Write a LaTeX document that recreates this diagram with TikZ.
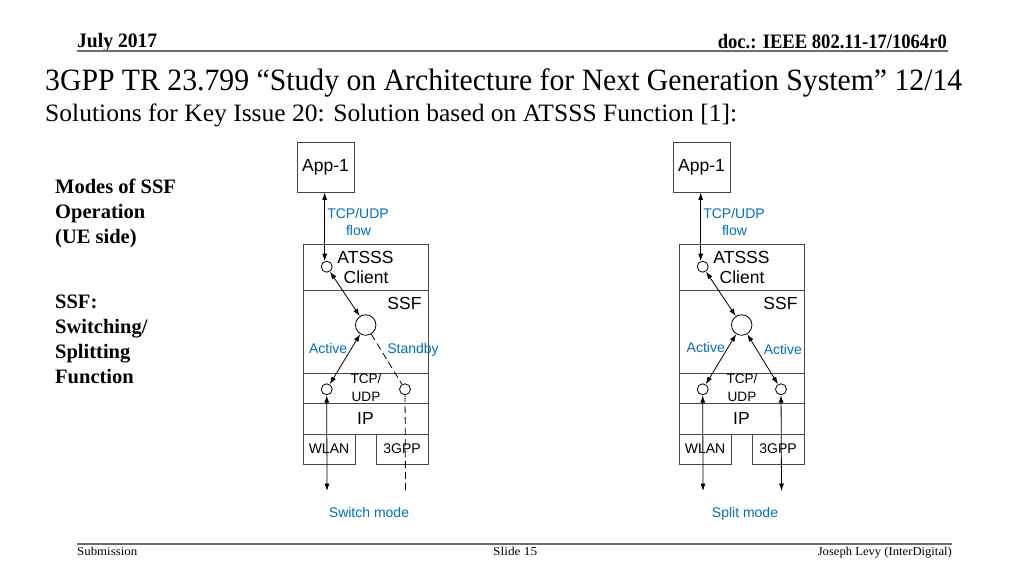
\documentclass[tikz,border=0pt]{standalone}
\usepackage{fontspec}
\setmainfont{Liberation Serif}
\newfontfamily\arialf{Liberation Sans}
\usepackage{graphicx}
\usetikzlibrary{arrows.meta}
\definecolor{lblue}{RGB}{0,112,192}
\definecolor{boxgray}{RGB}{70,70,70}
\definecolor{rulegray}{RGB}{110,110,110}
\newcommand\fs[1]{\fontsize{#1}{#1}\selectfont}
\newcommand\fitto[2]{\resizebox{#1}{\height}{#2}}

\newcommand\drawstack{%
  \node[appbox] (app) at (325.5,167) {App-1};
  \node[layer,minimum height=46pt] (lat) at (365.5,267) {};
  \node[layer,minimum height=83pt] (lssf) at (365.5,331.5) {};
  \node[layer,minimum height=30pt] (ltcp) at (365.5,388) {};
  \node[layer,minimum height=31pt,font=\arialf\fs{17.5}] (lip) at (365.5,418.5) {IP};
  \node[phy] (wlan) at (329,449) {WLAN};
  \node[phy] (g3) at (402,449) {3GPP};
  \node[lab] (tA) at (365.5,257) {ATSSS};
  \node[lab] (tC) at (366,277.5) {Client};
  \node[lab] (tS) at (404.5,303) {SSF};
  \node[lab13] (tT) at (366,379) {TCP/};
  \node[lab13] (tU) at (366,396.5) {UDP};
  \node[blab] (fl1) at (358,213) {TCP/UDP};
  \node[blab] (fl2) at (358.5,230) {flow};
  \node[sc] (c0) at (326.7,266.7) {};
  \node[bc] (cb) at (365.7,325) {};
  \node[sc] (cl) at (326.7,389.3) {};
  \node[sc] (cr) at (405,389.3) {};
  \coordinate (bl) at (327,491);
  \coordinate (br) at (405.5,491);
  \coordinate (brd) at (405.5,494);
  \draw[dbl] (c0.110 |- app.south) -- (c0.110);
  \draw[dbl] (c0) -- (cb);
  \draw[dbl] (cb) -- (cl);
}

\begin{document}
\begin{tikzpicture}[x=1pt,y=-1pt,
  appbox/.style={draw=boxgray,line width=0.8pt,minimum width=57pt,minimum height=50pt,inner sep=0pt,font=\arialf\fs{17.5}},
  layer/.style={draw=boxgray,line width=0.8pt,minimum width=125pt,inner sep=0pt,outer sep=0pt},
  phy/.style={draw=boxgray,line width=0.8pt,minimum width=52pt,minimum height=30pt,inner sep=0pt,font=\arialf\fs{14}},
  lab/.style={inner sep=0pt,text height=12.5pt,text depth=0pt,font=\arialf\fs{17.5}},
  lab13/.style={inner sep=0pt,text height=9.8pt,text depth=0pt,font=\arialf\fs{13.6}},
  blab/.style={inner sep=0pt,text height=10pt,text depth=0pt,font=\arialf\fs{14},text=lblue},
  sc/.style={circle,draw=black,line width=0.8pt,minimum size=11pt,inner sep=0pt},
  bc/.style={circle,draw=black,line width=0.8pt,minimum size=20.5pt,inner sep=0pt},
  dbl/.style={line width=0.8pt,{Latex[length=7.5pt,width=5pt]}-{Latex[length=7.5pt,width=5pt]}},
  dsh/.style={line width=0.8pt,dash pattern=on 7pt off 4pt},
  hdr/.style={inner sep=0pt,font=\bfseries\fs{20.5}},
  foot/.style={inner sep=0pt,font=\fs{12}},
  side/.style={inner sep=0pt,anchor=base west,font=\bfseries\fs{20.5}}
]
\useasboundingbox (0,0) rectangle (1024,576);
\fill[white] (0,0) rectangle (1024,576);

% header
\node[hdr,anchor=base west] (date) at (77,47) {\fitto{80pt}{July 2017}};
\node[hdr,anchor=base east] (doc) at (947,48) {\fitto{229pt}{doc.: IEEE 802.11-17/1064r0}};
\draw[rulegray,line width=1.3pt] (77,51) coordinate (hl) -- (948,51) coordinate (hr);
\node[inner sep=0pt,anchor=base west] (title) at (45,90) {\fitto{917pt}{\fs{31}3GPP TR 23.799 “Study on Architecture for Next Generation System” 12/14}};
\node[inner sep=0pt,anchor=base west] (sub) at (45,121) {\fitto{692pt}{\fs{25}Solutions for Key Issue 20: Solution based on ATSSS Function [1]:}};

% side text
\node[side] (m1) at (55,193) {Modes of SSF};
\node[side] (m2) at (55,218) {Operation};
\node[side] (m3) at (55,243) {(UE side)};
\node[side] (s1) at (55,308) {SSF:};
\node[side] (s2) at (55,333) {Switching/};
\node[side] (s3) at (55,358) {Splitting};
\node[side] (s4) at (55,383) {Function};

% left stack
\begin{scope}[name prefix=L-]
  \drawstack
\end{scope}
\draw[dsh] (L-cb) -- (L-cr);
\draw[dbl] (L-cl) -- (L-bl);
\draw[dsh] (L-cr) -- (L-brd);
\node[blab] (L-act) at (328.2,348.3) {Active};
\node[blab] (L-stb) at (413,348.3) {Standby};
\node[blab] (L-mode) at (369,512) {Switch mode};

% right stack
\begin{scope}[xshift=376pt,name prefix=R-]
  \drawstack
\end{scope}
\draw[dbl] (R-cb) -- (R-cr);
\draw[dbl] (R-cl) -- (R-bl);
\draw[dbl] (R-cr) -- (R-br);
\node[blab] (R-act1) at (705.8,347.3) {Active};
\node[blab] (R-act2) at (782.8,349.5) {Active};
\node[blab] (R-mode) at (745,512) {Split mode};

% footer
\draw[rulegray,line width=2pt] (77,544) coordinate (fl) -- (952,544) coordinate (fr);
\node[foot,anchor=base west] (subm) at (77,555) {\fitto{60pt}{Submission}};
\node[foot,anchor=base west] (slide) at (493,555) {\fitto{44pt}{Slide 15}};
\node[foot,anchor=base east] (auth) at (952,555) {\fitto{134pt}{Joseph Levy (InterDigital)}};
\end{tikzpicture}
\end{document}
